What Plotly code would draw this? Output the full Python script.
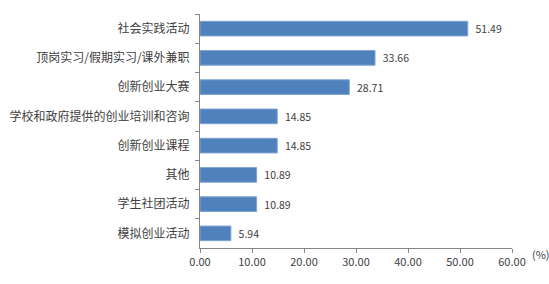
import plotly.graph_objects as go

categories = ["社会实践活动", "顶岗实习/假期实习/课外兼职", "创新创业大赛", "学校和政府提供的创业培训和咨询",
              "创新创业课程", "其他", "学生社团活动", "模拟创业活动"]
values = [51.49, 33.66, 28.71, 14.85, 14.85, 10.89, 10.89, 5.94]
x_ticks = [0, 10, 20, 30, 40, 50, 60]

font_family = "Noto Sans CJK SC, Noto Sans, sans-serif"
axis_color = "#868686"
text_color = "#404040"

fig = go.Figure(go.Bar(
    y=categories, x=values, orientation="h",
    marker=dict(color="#4F81BD", line=dict(color="#7FA3D3", width=1)),
    text=[f"{v:.2f}" for v in values], texttemplate="  %{text}",
    textposition="outside", cliponaxis=False,
    textfont=dict(size=11.5, color=text_color, family=font_family),
))

fig.update_layout(
    width=549, height=284,
    margin=dict(l=200, r=37, t=14, b=36, autoexpand=False),
    paper_bgcolor="white", plot_bgcolor="white",
    bargap=0.5, showlegend=False,
    font=dict(family=font_family, size=12, color=text_color),
)
fig.update_yaxes(
    autorange="reversed", categoryorder="array", categoryarray=categories,
    showline=True, linecolor=axis_color, linewidth=1, automargin=False,
    ticks="outside", tickson="boundaries", ticklen=4, tickcolor=axis_color,
    ticklabelstandoff=7, showgrid=False,
)
fig.update_xaxes(
    range=[0, 60], tickvals=x_ticks, ticktext=[f"{t:.2f}" for t in x_ticks],
    showline=True, linecolor=axis_color, linewidth=1, automargin=False,
    ticks="outside", ticklen=4, tickcolor=axis_color, showgrid=False, zeroline=False,
    ticklabelstandoff=0, tickfont=dict(size=11),
)
fig.add_annotation(text="(%)", xref="paper", yref="paper", x=1, y=0, xanchor="left",
                   xshift=19, yshift=-15, borderpad=0,
                   showarrow=False, font=dict(size=11, color=text_color))

fig.write_html("out.html", config={"displayModeBar": False},
               post_script="document.body.style.margin='0';document.body.style.padding='0';")
